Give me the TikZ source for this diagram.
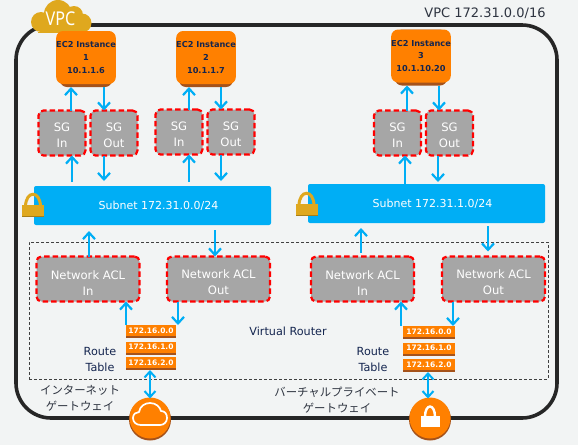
\documentclass[tikz,border=0pt]{standalone}
\usepackage{fontspec}
\usepackage{graphicx}
\setmainfont{DejaVu Sans}
\newfontfamily\jpfont{Noto Sans CJK JP}
\newfontfamily\vpcfont{Noto Sans}
\usetikzlibrary{arrows.meta}
\definecolor{pagebg}{HTML}{F2F4F4}
\definecolor{flowblue}{HTML}{00AEF5}
\definecolor{awsorange}{HTML}{FF8000}
\definecolor{awsdark}{HTML}{A5521A}
\definecolor{sggray}{HTML}{A6A6A6}
\definecolor{gold}{HTML}{DFA81E}
\definecolor{golddark}{HTML}{A87E16}
\definecolor{navy}{HTML}{14254F}
\definecolor{ink}{HTML}{2E3440}
\tikzset{
  x=1pt,y=-1pt,
  every node/.style={inner sep=0pt,outer sep=0pt,align=center},
  vpcbox/.style={draw=black!85,line width=3.6pt,rounded corners=35pt},
  routerbox/.style={draw=black!75,densely dashed,line width=.7pt},
  flowarrow/.style={draw=flowblue,line width=2.4pt,-{Straight Barb[length=6.5pt,width=12pt,line width=2.2pt]}},
  flowboth/.style={draw=flowblue,line width=2.2pt,{Straight Barb[length=6pt,width=11pt,line width=2pt]}-{Straight Barb[length=6pt,width=11pt,line width=2pt]}},
  guard/.style={fill=sggray,draw=red,line width=2.2pt,dash pattern=on 5.5pt off 3pt,rounded corners=5pt,text=white,font=\fontsize{11.6}{16}\selectfont},
  sgbox/.style={guard,minimum width=47pt,minimum height=45pt},
  aclbox/.style={guard,minimum width=103pt,minimum height=45pt},
  subnetbox/.style={fill=flowblue,rounded corners=2pt,minimum width=237pt,minimum height=39pt,text=white,font=\fontsize{11}{12}\selectfont},
  ecbase/.style={fill=awsdark,rounded corners=7pt,minimum width=52pt,minimum height=56pt},
  ectop/.style={fill=awsorange,rounded corners=7pt,minimum width=52pt,minimum height=53pt,text=navy,font=\fontsize{8.2}{12.6}\selectfont\bfseries},
  rowbase/.style={fill=awsdark,minimum width=50pt,minimum height=13pt},
  rowtop/.style={fill=awsorange,minimum width=50pt,minimum height=11pt,text=white,font=\fontsize{7.5}{10}\selectfont\bfseries},
  plain/.style={text=navy,font=\fontsize{11.2}{16}\selectfont},
  jp/.style={text=ink,font=\jpfont\fontsize{11.4}{16}\selectfont},
}
\newcommand{\flowline}[4][]{\draw[flowarrow,#1] (#2,0 |- #3) -- (#2,0 |- #4);}
\newcommand{\sgtext}[2]{\rule{0pt}{13pt}#1\\#2}
\newcommand{\acltext}[1]{\rule{0pt}{16pt}Network ACL\\#1}
\begin{document}
\begin{tikzpicture}
\useasboundingbox (0,0) rectangle (578,445);
\fill[pagebg] (0,0) rectangle (578,445);

% VPC frame
\node[vpcbox,minimum width=541pt,minimum height=393pt] (vpc) at (286.5,221.5) {};
\node[text=ink,font=\fontsize{13}{15}\selectfont] (vpclabel) at (485,13.5) {VPC 172.31.0.0/16};

% VPC cloud
\fill[gold] (41,22) circle[radius=10pt] (58,14) circle[radius=14pt] (74,15) circle[radius=9pt] (82,23) circle[radius=9.5pt] (40,20) rectangle (82,32.5);
\fill[gold] (38,32) rectangle (84,33);
\node[text=white,font=\vpcfont\fontsize{19}{19}\selectfont] (vpcname) at (60.5,19) {\scalebox{.85}[1]{VPC}};

% router frame
\node[routerbox,minimum width=519pt,minimum height=137pt] (router) at (288.5,310.5) {};
\node[plain] (vrlabel) at (288,331) {Virtual Router};

% EC2
\node[ecbase] (ec1) at (86,59) {};
\node[ectop] (ec1t) at (86,57.5) {EC2 Instance\\1\\10.1.1.6};
\node[ecbase,minimum width=54pt] (ec2) at (206,59) {};
\node[ectop,minimum width=54pt] (ec2t) at (206,57.5) {EC2 Instance\\2\\10.1.1.7};
\node[ecbase] (ec3) at (421,57.5) {};
\node[ectop] (ec3t) at (421,56) {EC2 Instance\\3\\10.1.10.20};

% SG
\node[sgbox] (si1) at (62,133) {\sgtext{SG}{In}};
\node[sgbox] (so1) at (114,133) {\sgtext{SG}{Out}};
\node[sgbox] (si2) at (179,132) {\sgtext{SG}{In}};
\node[sgbox] (so2) at (231,132) {\sgtext{SG}{Out}};
\node[sgbox] (si3) at (397.5,133) {\sgtext{SG}{In}};
\node[sgbox] (so3) at (449.5,133) {\sgtext{SG}{Out}};

% Subnets
\node[subnetbox] (sub1) at (152.5,205.5) {\hspace{12pt}Subnet 172.31.0.0/24};
\node[subnetbox] (sub2) at (426.5,203.5) {\hspace{12pt}Subnet 172.31.1.0/24};

% locks
\foreach \lx/\ly in {33/217,306.5/216}{
  \draw[gold,line width=3pt] (\lx-7.5,\ly-10) .. controls (\lx-7.5,\ly-27) and (\lx+7.5,\ly-27) .. (\lx+7.5,\ly-10);
  \fill[gold] (\lx-11,\ly-12) rectangle (\lx+11,\ly-1);
  \fill[golddark] (\lx-11,\ly-1) rectangle (\lx+11,\ly);
}

% ACL
\node[aclbox] (ai1) at (88,279) {\acltext{In}};
\node[aclbox] (ao1) at (218.5,279) {\acltext{Out}};
\node[aclbox] (ai2) at (362.5,279) {\acltext{In}};
\node[aclbox] (ao2) at (493.5,279) {\acltext{Out}};

% Route tables
\foreach \n/\yy/\t in {a/331.5/172.16.0.0,b/348/172.16.1.0,c/363.5/172.16.2.0}{
  \node[rowbase] (l\n) at (151,\yy) {};
  \node[rowtop] (l\n t) at (151,\yy-1) {\t};
}
\foreach \n/\yy/\t in {a/332.5/172.16.0.0,b/349/172.16.1.0,c/365.5/172.16.2.0}{
  \node[rowbase,minimum width=52pt] (r\n) at (429,\yy) {};
  \node[rowtop,minimum width=52pt] (r\n t) at (429,\yy-1) {\t};
}
\node[plain] (rt1) at (100,359) {Route\\Table};
\node[plain] (rt2) at (373,359) {Route\\Table};

% gateway labels
\node[jp] (igwlabel) at (80,398) {インターネット\\ゲートウェイ};
\node[jp] (vgwlabel) at (337,400) {バーチャルプライベート\\ゲートウェイ};

% gateways
\node[circle,fill=awsdark,minimum size=42pt] (igw) at (150,419.5) {};
\fill[awsorange] (150,418) circle[radius=20.5pt];
\draw[white,line width=1.7pt,line join=round] (141,425) .. controls (136,425) and (133,422) .. (133,418) .. controls (133,414) and (136,412) .. (139,412) .. controls (140,406) and (145,403) .. (150,403) .. controls (156,403) and (160,407) .. (161,411) .. controls (165,411) and (167,414) .. (167,418) .. controls (167,422) and (164,425) .. (160,425) -- cycle;
\node[circle,fill=awsdark,minimum size=42pt] (vgw) at (430,419.5) {};
\fill[awsorange] (430,418) circle[radius=20.5pt];
\draw[white,line width=2.4pt] (425,417) .. controls (425,403) and (435,403) .. (435,417);
\fill[white] (421,416) rectangle (440,427);

% connectors
\flowline{71}{si1.north}{ec1.south}
\flowline{104}{ec1.south}{so1.north}
\flowline[shorten <=4pt]{72}{sub1.north}{si1.south}
\flowline[shorten >=5pt]{104}{so1.south}{sub1.north}
\flowline{189}{si2.north}{ec2.south}
\flowline{221}{ec2.south}{so2.north}
\flowline[shorten <=4pt]{189}{sub1.north}{si2.south}
\flowline[shorten >=5pt]{221}{so2.south}{sub1.north}
\flowline{407}{si3.north}{ec3.south}
\flowline{439}{ec3.south}{so3.north}
\flowline{405}{sub2.north}{si3.south}
\flowline[shorten >=2pt]{438}{so3.south}{sub2.north}
\flowline[shorten >=6pt]{89}{ai1.north}{sub1.south}
\flowline[shorten <=5pt]{215}{sub1.south}{ao1.north}
\flowline[shorten <=4pt,shorten >=5pt]{361}{ai2.north}{sub2.south}
\flowline[shorten <=3pt,shorten >=5pt]{488}{sub2.south}{ao2.north}
\flowline{126}{la.north}{ai1.south}
\flowline{178}{ao1.south}{la.north}
\flowline{401}{ra.north}{ai2.south}
\flowline{453}{ao2.south}{ra.north}
\draw[flowboth] (150,0 |- lc.south) -- (150,0 |- igw.north);
\draw[flowboth] (428,0 |- rc.south) -- (428,0 |- vgw.north);
\end{tikzpicture}
\end{document}
